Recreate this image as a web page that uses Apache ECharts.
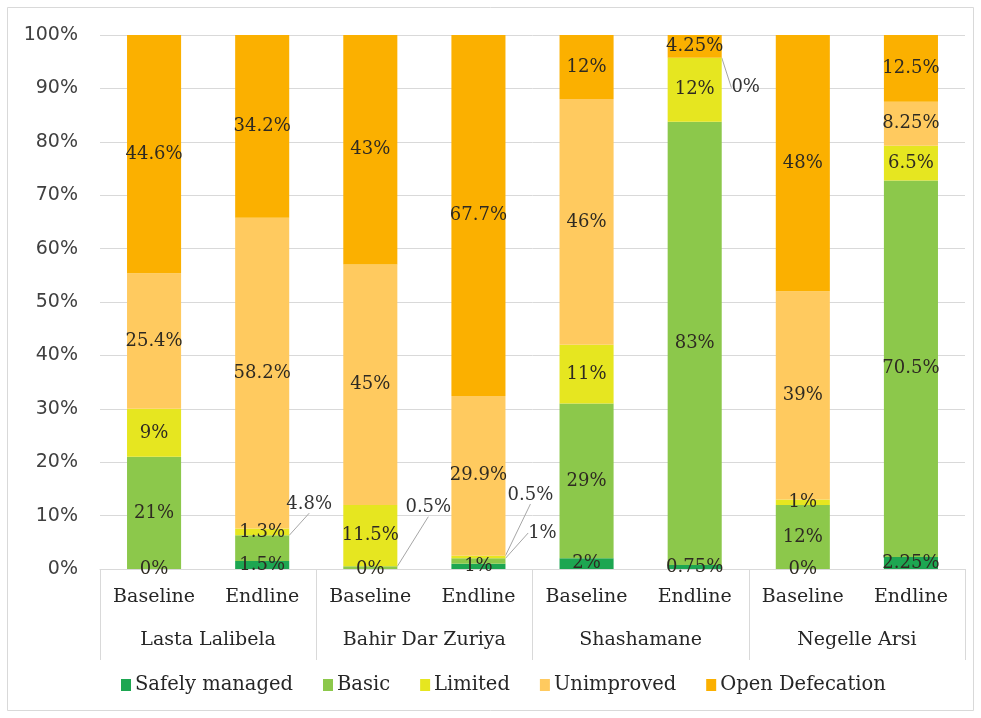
<!DOCTYPE html>
<html>
<head>
<meta charset="utf-8">
<script src="https://cdn.jsdelivr.net/npm/echarts@6/dist/echarts.min.js"></script>
<style>
  html, body { margin: 0; padding: 0; background: #fff; }
  #main { width: 981px; height: 718px; }
</style>
</head>
<body>
<div id="main"></div>
<script>
// categories
var phases = ['Baseline', 'Endline', 'Baseline', 'Endline', 'Baseline', 'Endline', 'Baseline', 'Endline']
var districts = ['Lasta Lalibela', 'Bahir Dar Zuriya', 'Shashamane', 'Negelle Arsi']
var yTicks = [0, 10, 20, 30, 40, 50, 60, 70, 80, 90, 100]

// series values (%)
var safelyManaged = [0, 1.5, 0, 1, 2, 0.75, 0, 2.25]
var basic = [21, 4.8, 0.5, 1, 29, 83, 12, 70.5]
var limited = [9, 1.3, 11.5, 0.5, 11, 12, 1, 6.5]
var unimproved = [25.4, 58.2, 45, 29.9, 46, 0, 39, 8.25]
var openDefecation = [44.6, 34.2, 43, 67.7, 12, 4.25, 48, 12.5]

// labels pulled out of the bar with a leader line: series -> {dataIndex: [dx, dy]}
var leaderOffsets = {
  'Basic': { 1: [47, -44], 2: [58, -60], 3: [64, -28] },
  'Limited': { 3: [52, -62] },
  'Unimproved': { 5: [51, 30] }
}

var colors = ['#1da651', '#8cc84b', '#e6e620', '#ffca5f', '#fbb000']
var labelFont = 'DejaVu Serif'

function makeSeries (name, values, color) {
  var offs = leaderOffsets[name] || {}
  return {
    name: name,
    type: 'bar',
    stack: 'total',
    barWidth: '50%',
    itemStyle: { color: color },
    label: {
      show: true,
      position: 'inside',
      formatter: function (p) { return p.value + '%' },
      color: '#2e2a22',
      fontFamily: labelFont,
      fontSize: 18
    },
    labelLayout: function (p) {
      var o = offs[p.dataIndex]
      if (!o) return {}
      return { dx: o[0], dy: o[1] }
    },
    data: values.map(function (v, i) {
      var item = { value: v }
      if (offs[i]) {
        item.labelLine = { show: true, lineStyle: { color: '#a6a6a6', width: 1 } }
        item.label = { color: '#333333' }
      }
      return item
    })
  }
}

var chart = echarts.init(document.getElementById('main'))

var option = {
  animation: false,
  backgroundColor: '#fff',
  graphic: [{
    type: 'rect',
    shape: { x: 7.5, y: 7.5, width: 966, height: 703 },
    style: { fill: 'none', stroke: '#d9d9d9', lineWidth: 1 },
    silent: true
  }],
  grid: { left: 100, right: 16, top: 35, bottom: 149 },
  legend: {
    bottom: 18,
    left: 116,
    itemWidth: 10,
    itemHeight: 12,
    itemGap: 30,
    icon: 'rect',
    textStyle: { fontFamily: labelFont, fontSize: 19.5, color: '#262626', padding: [0, 0, 0, -1] },
    data: ['Safely managed', 'Basic', 'Limited', 'Unimproved', 'Open Defecation']
  },
  xAxis: [
    {
      type: 'category',
      data: phases,
      axisLine: { lineStyle: { color: '#d9d9d9' } },
      axisTick: { show: false },
      axisLabel: { margin: 19, fontFamily: labelFont, fontSize: 19, color: '#262626' }
    },
    {
      type: 'category',
      data: districts,
      position: 'bottom',
      offset: 91,
      axisLine: { show: false },
      axisTick: { show: true, inside: true, length: 91, lineStyle: { color: '#d9d9d9' } },
      axisLabel: { inside: true, margin: 10, fontFamily: labelFont, fontSize: 19, color: '#262626' }
    }
  ],
  yAxis: {
    type: 'value',
    min: yTicks[0],
    max: yTicks[yTicks.length - 1],
    interval: 10,
    axisLine: { show: false },
    axisTick: { show: false },
    splitLine: { lineStyle: { color: '#d9d9d9' } },
    axisLabel: {
      formatter: '{value}%',
      margin: 22,
      fontFamily: 'DejaVu Sans',
      fontSize: 19,
      color: '#404040'
    }
  },
  series: [
    makeSeries('Safely managed', safelyManaged, colors[0]),
    makeSeries('Basic', basic, colors[1]),
    makeSeries('Limited', limited, colors[2]),
    makeSeries('Unimproved', unimproved, colors[3]),
    makeSeries('Open Defecation', openDefecation, colors[4])
  ]
}

chart.setOption(option)
</script>
</body>
</html>
